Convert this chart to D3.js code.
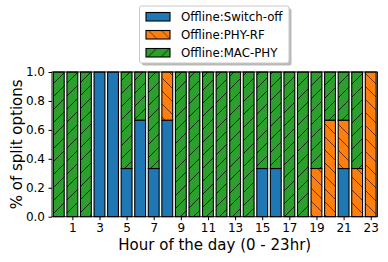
<!DOCTYPE html>
<html lang="en">
<head>
<meta charset="UTF-8">
<title>Split options by hour</title>
<style>
  body { margin: 0; background: #fff; }
  svg text { font-family: "DejaVu Sans", sans-serif; fill: #000; }
</style>
</head>
<body>
<div id="root"></div>
<script src="https://d3js.org/d3.v7.min.js"></script>
<script>
// data (fraction of split options per hour)
const hours = [0, 1, 2, 3, 4, 5, 6, 7, 8, 9, 10, 11, 12, 13, 14, 15, 16, 17, 18, 19, 20, 21, 22, 23]
const switchOff = [0, 0, 0, 1, 1, 0.333, 0.667, 0.333, 0.667, 0, 0, 0, 0, 0, 0, 0.333, 0.333, 0, 0, 0, 0, 0.333, 0, 0]
const phyRf = [0, 0, 0, 0, 0, 0, 0, 0, 0.333, 0, 0, 0, 0, 0, 0, 0, 0, 0, 0, 0.333, 0.667, 0.334, 0.333, 1]
const macPhy = [1, 1, 1, 0, 0, 0.667, 0.333, 0.667, 0, 1, 1, 1, 1, 1, 1, 0.667, 0.667, 1, 1, 0.667, 0.333, 0.333, 0.667, 0]
const seriesNames = ['Offline:Switch-off', 'Offline:PHY-RF', 'Offline:MAC-PHY']
const xTicks = [1, 3, 5, 7, 9, 11, 13, 15, 17, 19, 21, 23]
const yTicks = [0, 0.2, 0.4, 0.6, 0.8, 1.0]

const keys = ['switchOff', 'phyRf', 'macPhy']
const colors = {switchOff: '#1f77b4', phyRf: '#ff7f0e', macPhy: '#2ca02c'}
const hatches = {switchOff: null, phyRf: 'hatch-back', macPhy: 'hatch-fwd'}

const table = hours.map((h, i) => ({hour: h, switchOff: switchOff[i], phyRf: phyRf[i], macPhy: macPhy[i]}))

const W = 388, H = 262
const margin = {top: 72, right: 10.5, bottom: 45.3, left: 52}
const width = W - margin.left - margin.right
const height = H - margin.top - margin.bottom

const svg = d3.select('#root').append('svg')
  .attr('width', W)
  .attr('height', H)

// hatch patterns, like matplotlib '/' and '\'
const defs = svg.append('defs')
function makeHatch(id, fwd, color) {
  const s = 13
  const p = defs.append('pattern')
    .attr('id', id)
    .attr('patternUnits', 'userSpaceOnUse')
    .attr('width', s).attr('height', s)
  p.append('rect').attr('width', s).attr('height', s).attr('fill', color)
  const d = fwd
    ? `M0,${s} L${s},0 M-2,2 L2,-2 M${s - 2},${s + 2} L${s + 2},${s - 2}`
    : `M0,0 L${s},${s} M-2,${s - 2} L2,${s + 2} M${s - 2},-2 L${s + 2},2`
  p.append('path').attr('d', d)
    .attr('stroke', fwd ? '#000' : '#3a1f05')
    .attr('stroke-opacity', 0.85)
    .attr('stroke-width', 0.9)
}
makeHatch('hatch-fwd', true, colors.macPhy)
makeHatch('hatch-back', false, colors.phyRf)

const fillFor = k => hatches[k] ? `url(#${hatches[k]})` : colors[k]

const g = svg.append('g').attr('transform', `translate(${margin.left},${margin.top})`)

const x = d3.scaleLinear().domain([-0.5, 23.5]).range([0, width])
const y = d3.scaleLinear().domain([0, 1]).range([height, 0])
const barW = (x(0.8) - x(0))

const stacked = d3.stack().keys(keys)(table)

stacked.forEach(layer => {
  g.append('g')
    .selectAll('rect')
    .data(layer.filter(d => d[1] - d[0] > 0))
    .join('rect')
      .attr('x', d => x(d.data.hour) - barW / 2)
      .attr('y', d => y(d[1]))
      .attr('width', barW)
      .attr('height', d => y(d[0]) - y(d[1]))
      .attr('fill', fillFor(layer.key))
      .attr('stroke', '#000')
      .attr('stroke-width', 1.1)
})

// axes
const xAxis = g.append('g')
  .attr('transform', `translate(0,${height})`)
  .call(d3.axisBottom(x).tickValues(xTicks).tickSize(3.5).tickPadding(3.5).tickFormat(d3.format('d')))
xAxis.select('.domain').remove()
xAxis.selectAll('text').style('font-size', '12px')

const yAxis = g.append('g')
  .call(d3.axisLeft(y).tickValues(yTicks).tickSize(3.5).tickPadding(3.5).tickFormat(d3.format('.1f')))
yAxis.select('.domain').remove()
yAxis.selectAll('text').style('font-size', '12px')

// frame
g.append('rect')
  .attr('x', 0).attr('y', 0)
  .attr('width', width).attr('height', height)
  .attr('fill', 'none')
  .attr('stroke', '#000')
  .attr('stroke-width', 0.9)

// axis labels
svg.append('text')
  .attr('x', margin.left + width / 2)
  .attr('y', 250)
  .attr('text-anchor', 'middle')
  .style('font-size', '15px')
  .text('Hour of the day (0 - 23hr)')

svg.append('text')
  .attr('transform', `translate(22,${margin.top + height / 2}) rotate(-90)`)
  .attr('text-anchor', 'middle')
  .style('font-size', '15px')
  .text('% of split options')

// legend with shadow
const leg = svg.append('g').attr('transform', 'translate(139.5,6)')
leg.append('rect')
  .attr('x', 2.5).attr('y', 2.5)
  .attr('width', 149.5).attr('height', 57)
  .attr('rx', 2)
  .attr('fill', '#808080').attr('fill-opacity', 0.55)
leg.append('rect')
  .attr('width', 149.5).attr('height', 57)
  .attr('rx', 2)
  .attr('fill', '#fff')
  .attr('stroke', '#c8c8c8')
  .attr('stroke-width', 1)

keys.forEach((k, i) => {
  const row = leg.append('g').attr('transform', `translate(0,${10.5 + i * 18})`)
  row.append('rect')
    .attr('x', 6.5).attr('y', -4)
    .attr('width', 24).attr('height', 8.5)
    .attr('fill', fillFor(k))
    .attr('stroke', '#000')
    .attr('stroke-width', 1.1)
  row.append('text')
    .attr('x', 41.5).attr('y', 4.5)
    .style('font-size', '11.8px')
    .text(seriesNames[i])
})
</script>
</body>
</html>
